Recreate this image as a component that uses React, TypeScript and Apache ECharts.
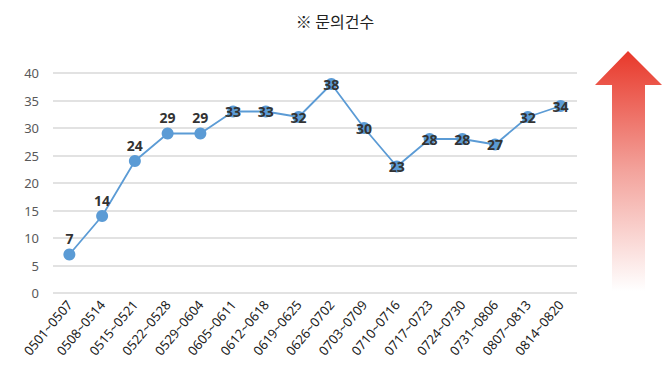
import React, { useEffect, useRef } from "react";
import * as echarts from "echarts";

const categories = [
  "0501~0507", "0508~0514", "0515~0521", "0522~0528", "0529~0604", "0605~0611",
  "0612~0618", "0619~0625", "0626~0702", "0703~0709", "0710~0716", "0717~0723",
  "0724~0730", "0731~0806", "0807~0813", "0814~0820",
];
const values = [7, 14, 24, 29, 29, 33, 33, 32, 38, 30, 23, 28, 28, 27, 32, 34];
const labelPositions = [
  "top", "top", "top", "top", "top", "inside", "inside", "inside", "inside",
  "inside", "inside", "inside", "inside", "inside", "inside", "inside",
];
const title = "※ 문의건수";

export default function App() {
  const ref = useRef<HTMLDivElement>(null);
  useEffect(() => {
    if (!ref.current) return;
    const chart = echarts.init(ref.current, null, { renderer: "svg" });
    const font = "'Noto Sans', 'Noto Sans CJK KR', sans-serif";
    chart.setOption({
      animation: false,
      title: {
        text: title,
        left: "center",
        top: 8,
        textStyle: { fontFamily: "'Noto Sans CJK KR', sans-serif", fontSize: 16, fontWeight: "normal", color: "#222" },
      },
      grid: { left: 53, right: 93, top: 73, bottom: 87 },
      xAxis: {
        type: "category",
        data: categories,
        boundaryGap: true,
        axisLine: { show: false },
        axisTick: { show: false },
        axisLabel: { rotate: 50, interval: 0, fontSize: 13, color: "#222", fontFamily: font, margin: 9 },
      },
      yAxis: {
        type: "value",
        min: 0,
        max: 40,
        interval: 5,
        axisLine: { show: false },
        axisTick: { show: false },
        axisLabel: { fontSize: 13, color: "#595959", fontFamily: font, margin: 14 },
        splitLine: { lineStyle: { color: "#d9d9d9", width: 1.5 } },
      },
      series: [
        {
          type: "line",
          data: values.map((v, i) => ({
            value: v,
            label: { position: labelPositions[i] as any, distance: 3 },
          })),
          symbol: "circle",
          symbolSize: 12,
          itemStyle: { color: "#5b9bd5" },
          lineStyle: { color: "#5b9bd5", width: 1.8 },
          label: {
            show: true,
            fontSize: 14,
            fontWeight: "bold",
            color: "#333",
            fontFamily: font,
            textBorderWidth: 0,
          },
        },
      ],
      graphic: [
        {
          type: "polygon",
          shape: {
            points: [[628, 51], [662, 85], [645, 85], [645, 291], [612, 291], [612, 85], [595, 85]],
          },
          style: {
            fill: new echarts.graphic.LinearGradient(0, 0, 0, 1, [
              { offset: 0, color: "#e8382a" },
              { offset: 0.5, color: "#f3a39c" },
              { offset: 1, color: "#ffffff" },
            ]),
          },
        },
      ],
    });
    return () => chart.dispose();
  }, []);
  return <div ref={ref} style={{ width: 670, height: 380, margin: -8 }} />;
}
